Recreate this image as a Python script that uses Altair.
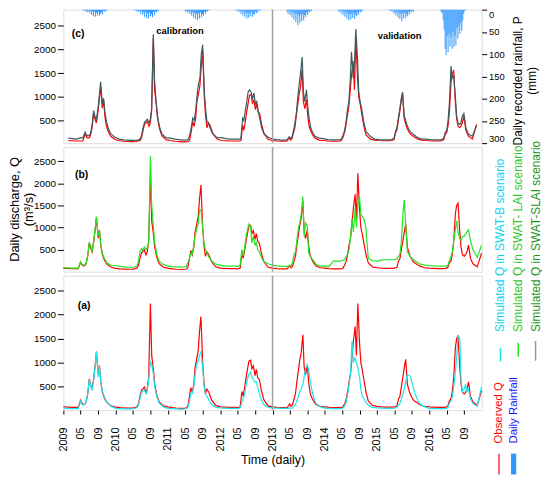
import altair as alt
import pandas as pd

YEARS = [2009, 2010, 2011, 2012, 2013, 2014, 2015, 2016]
MONTH_DAYS = ["01-01", "02-01", "03-01", "04-01", "04-15", "05-01", "05-10", "05-20",
              "06-01", "06-10", "06-20", "07-01", "07-10", "07-20", "08-01", "08-10",
              "08-20", "09-01", "09-10", "09-20", "10-01", "10-15", "11-01", "12-01"]
LAST_DAY = "2016-12-31"

# Observed discharge (m3/s)
OBS = {
    2009: [80, 75, 70, 70, 70, 220, 160, 130, 140, 200, 350, 660, 540, 450, 680, 920, 1230, 760, 940, 580, 380, 260, 170, 100],
    2010: [75, 65, 60, 55, 55, 60, 65, 70, 90, 150, 300, 430, 450, 490, 380, 450, 700, 2230, 1150, 900, 560, 330, 180, 100],
    2011: [80, 65, 55, 50, 50, 55, 60, 90, 300, 480, 380, 550, 900, 1050, 1250, 1650, 1960, 1000, 600, 350, 450, 380, 230, 110],
    2012: [80, 75, 70, 70, 70, 65, 70, 80, 400, 300, 480, 700, 860, 1030, 1050, 870, 930, 730, 860, 680, 650, 420, 230, 100],
    2013: [80, 70, 65, 65, 70, 140, 90, 120, 250, 350, 600, 850, 1050, 1200, 1580, 900, 750, 950, 600, 380, 280, 200, 130, 90],
    2014: [80, 70, 65, 65, 65, 70, 90, 150, 250, 400, 600, 800, 1100, 1450, 1750, 1150, 2230, 1400, 1000, 850, 650, 400, 200, 110],
    2015: [90, 80, 75, 75, 75, 80, 85, 100, 250, 300, 500, 700, 900, 1070, 550, 450, 350, 280, 230, 200, 180, 150, 120, 90],
    2016: [80, 75, 70, 70, 70, 80, 100, 200, 250, 400, 700, 1300, 1500, 1550, 900, 550, 380, 350, 380, 450, 600, 300, 180, 110],
}
OBS_END = 420

# Simulated Q, SWAT-B scenario (cyan)
SWAT_B = {
    2009: [55, 50, 45, 45, 45, 200, 140, 120, 140, 200, 350, 640, 540, 420, 650, 900, 1220, 700, 920, 600, 400, 280, 180, 90],
    2010: [50, 45, 40, 40, 40, 45, 50, 55, 70, 120, 250, 380, 400, 430, 350, 420, 650, 1030, 950, 800, 500, 300, 160, 80],
    2011: [50, 45, 40, 35, 35, 40, 45, 60, 200, 350, 350, 500, 750, 950, 1050, 1150, 1240, 900, 550, 350, 300, 220, 130, 70],
    2012: [60, 55, 50, 50, 50, 45, 50, 60, 180, 250, 350, 550, 660, 750, 800, 700, 650, 590, 600, 480, 350, 220, 130, 70],
    2013: [60, 55, 50, 50, 50, 60, 55, 60, 100, 130, 200, 300, 400, 450, 550, 700, 880, 960, 850, 650, 450, 280, 150, 80],
    2014: [55, 50, 45, 45, 45, 50, 60, 100, 200, 350, 550, 800, 1450, 1000, 1100, 1000, 900, 700, 450, 300, 250, 180, 120, 70],
    2015: [60, 55, 50, 50, 50, 55, 60, 70, 120, 150, 250, 350, 450, 600, 760, 740, 720, 600, 500, 380, 300, 200, 130, 80],
    2016: [50, 45, 45, 45, 45, 50, 70, 150, 200, 300, 500, 800, 1100, 1550, 1500, 600, 400, 450, 550, 400, 450, 250, 150, 90],
}
SWAT_B_END = 500

# Simulated Q, SWAT-LAI scenario (green)
SWAT_LAI = {
    2009: [90, 85, 80, 80, 80, 220, 170, 150, 160, 200, 380, 650, 600, 450, 700, 950, 1240, 800, 930, 600, 400, 300, 200, 140],
    2010: [140, 120, 110, 100, 100, 100, 100, 110, 150, 250, 450, 520, 480, 560, 500, 540, 650, 2620, 1500, 1100, 650, 400, 240, 160],
    2011: [130, 115, 110, 105, 105, 110, 120, 200, 300, 420, 400, 600, 800, 950, 1100, 1400, 1400, 1000, 650, 500, 420, 330, 250, 170],
    2012: [150, 130, 125, 125, 125, 120, 125, 150, 500, 350, 550, 800, 950, 1080, 1000, 650, 800, 600, 650, 500, 450, 320, 230, 180],
    2013: [150, 130, 120, 120, 120, 130, 130, 200, 400, 450, 700, 1000, 1100, 1300, 1700, 800, 1100, 1050, 450, 350, 300, 250, 170, 120],
    2014: [130, 120, 240, 240, 240, 250, 260, 280, 350, 400, 500, 800, 1200, 900, 1450, 1000, 1500, 1700, 1300, 1250, 1200, 1000, 300, 250],
    2015: [240, 260, 270, 270, 270, 270, 280, 290, 350, 400, 700, 1300, 1620, 1100, 450, 400, 350, 300, 280, 250, 230, 200, 170, 150],
    2016: [140, 130, 125, 125, 125, 130, 150, 250, 350, 450, 700, 950, 1150, 900, 750, 700, 800, 800, 850, 900, 950, 700, 500, 320],
}
SWAT_LAI_END = 600

# Simulated Q, SWAT-SLAI scenario (dark grey)
SWAT_SLAI = {
    2009: [130, 120, 110, 140, 130, 260, 200, 180, 190, 250, 400, 710, 600, 500, 750, 1000, 1320, 850, 970, 680, 470, 330, 220, 150],
    2010: [110, 95, 90, 85, 85, 85, 90, 100, 120, 200, 350, 470, 500, 530, 450, 520, 750, 2320, 1350, 950, 600, 380, 220, 140],
    2011: [130, 110, 100, 90, 90, 95, 110, 200, 380, 550, 500, 700, 1000, 1250, 1400, 1900, 2100, 1100, 750, 480, 450, 320, 220, 140],
    2012: [140, 120, 110, 110, 110, 105, 110, 130, 550, 500, 700, 900, 1100, 1150, 1100, 950, 1080, 850, 900, 700, 560, 350, 220, 150],
    2013: [110, 100, 90, 90, 95, 160, 120, 150, 300, 450, 650, 1000, 1250, 1500, 1840, 1100, 900, 1150, 800, 550, 350, 250, 170, 130],
    2014: [120, 100, 95, 95, 95, 100, 120, 180, 300, 450, 700, 900, 1300, 1950, 1400, 1700, 2430, 1800, 1100, 900, 750, 480, 270, 170],
    2015: [110, 100, 95, 95, 95, 100, 110, 130, 280, 350, 550, 750, 950, 1100, 600, 520, 420, 330, 280, 250, 220, 190, 150, 110],
    2016: [110, 100, 95, 95, 95, 110, 130, 250, 300, 500, 900, 1650, 1400, 1450, 1000, 600, 450, 420, 450, 600, 650, 350, 220, 170],
}
SWAT_SLAI_END = 400

# Daily recorded rainfall (mm), wet-season samples
RAIN_MONTH_DAYS = ["04-15", "04-22", "04-29", "05-06", "05-13", "05-20", "05-27", "06-03", "06-10",
                   "06-17", "06-24", "07-01", "07-08", "07-15", "07-22", "07-29", "08-05", "08-12",
                   "08-19", "08-26", "09-02", "09-09", "09-16", "09-23", "09-30", "10-07"]
RAIN = {
    2009: [1, 3, 1, 4, 2, 6, 2, 8, 3, 12, 5, 15, 4, 16, 7, 13, 5, 14, 9, 6, 11, 3, 5, 2, 3, 1],
    2010: [1, 2, 1, 4, 2, 5, 2, 9, 3, 12, 6, 16, 5, 19, 8, 20, 6, 15, 10, 17, 5, 13, 4, 7, 2, 3],
    2011: [2, 5, 2, 7, 3, 10, 4, 14, 6, 18, 7, 21, 9, 24, 8, 20, 6, 17, 10, 14, 5, 9, 3, 5, 2, 1],
    2012: [1, 3, 1, 6, 2, 9, 3, 13, 5, 16, 6, 20, 8, 18, 7, 15, 5, 16, 9, 11, 4, 8, 2, 4, 1, 2],
    2013: [4, 9, 3, 12, 5, 17, 6, 22, 9, 28, 10, 35, 12, 30, 11, 26, 9, 24, 12, 17, 6, 12, 4, 6, 2, 3],
    2014: [2, 5, 2, 8, 3, 12, 5, 16, 6, 20, 8, 24, 10, 22, 9, 19, 7, 21, 11, 15, 6, 12, 3, 6, 2, 3],
    2015: [1, 3, 1, 5, 2, 9, 4, 13, 5, 17, 7, 21, 9, 26, 8, 20, 7, 18, 10, 15, 5, 11, 3, 6, 2, 4],
    2016: [2, 5, 8, 22, 45, 88, 102, 60, 95, 55, 82, 62, 88, 50, 84, 58, 80, 42, 65, 38, 55, 30, 48, 25, 10, 3],
}

Q_TICKS = [500, 1000, 1500, 2000, 2500]
RAIN_TICKS = [0, 50, 100, 150, 200, 250, 300]

# ---------- tables ----------
dates, obs, sb, slai_v, lai_v = [], [], [], [], []
for y in YEARS:
    for i, md in enumerate(MONTH_DAYS):
        dates.append(f"{y}-{md}")
        obs.append(OBS[y][i]); sb.append(SWAT_B[y][i])
        lai_v.append(SWAT_LAI[y][i]); slai_v.append(SWAT_SLAI[y][i])
dates.append(LAST_DAY); obs.append(OBS_END); sb.append(SWAT_B_END)
lai_v.append(SWAT_LAI_END); slai_v.append(SWAT_SLAI_END)
qdf = pd.DataFrame({"date": dates, "obs": obs, "b": sb, "lai": lai_v, "slai": slai_v})

rdates, rvals = [], []
for y in YEARS:
    for i, md in enumerate(RAIN_MONTH_DAYS):
        rdates.append(f"{y}-{md}")
        rvals.append(RAIN[y][i])
rdf = pd.DataFrame({"date": rdates, "rain": rvals})
split_df = pd.DataFrame({"date": ["2013-01-01"]})
one = pd.DataFrame({"k": [0]})

# ---------- styling ----------
W = 423
H_C, H_B, H_A = 135, 126, 136
RED = "#FF0000"
CYAN = "#19E6F0"
GREEN = "#22E622"
GREY = "#3C5A5F"
BLUE = "#2E96FF"

x_scale = alt.Scale(type="utc", nice=False,
                    domain=[alt.DateTime(year=2009, month=1, date=1, utc=True),
                            alt.DateTime(year=2017, month=1, date=1, utc=True)])
x_none = alt.X("date:T", scale=x_scale, axis=None)

tick_vals = [alt.DateTime(year=y, month=m, date=1, utc=True) for y in YEARS for m in (1, 5, 9)]
x_axis_a = alt.Axis(
    values=tick_vals,
    labelExpr="utcmonth(datum.value) == 0 ? utcFormat(datum.value, '%Y') : utcFormat(datum.value, '%m')",
    labelAngle=270, labelAlign="right", labelBaseline="middle",
    labelFontSize=11, labelPadding=13, tickSize=4, labelOverlap=False,
    grid=False, domain=False, title="Time (daily)", titleFontSize=12.5,
    titleFontWeight="normal", titlePadding=2, titleColor="black",
    labelColor="black", tickColor="black")
x_a = alt.X("date:T", scale=x_scale, axis=x_axis_a)


def y_enc(field, domain):
    return alt.Y(f"{field}:Q", scale=alt.Scale(domain=domain, nice=False, zero=False),
                 axis=alt.Axis(values=Q_TICKS, format="d", tickSize=6, labelPadding=2,
                               labelFontSize=10, title=None, grid=False, domain=False,
                               labelColor="black", tickColor="black"))


def line(field, color, x, domain, width=1.2):
    return alt.Chart(qdf).mark_line(color=color, strokeWidth=width).encode(
        x=x, y=y_enc(field, domain))


def txt(s, x, y, size=10, weight="normal", color="black", angle=0, align="center"):
    return alt.Chart(one).mark_text(text=s, fontSize=size, fontWeight=weight, color=color,
                                    angle=angle, align=align, baseline="middle").encode(
        x=alt.value(x), y=alt.value(y))


def split_rule(x):
    return alt.Chart(split_df).mark_rule(color="#A0A0A0", strokeWidth=1.5).encode(x=x)


def sym(x, y1, y2, color, width=1.5):
    return alt.Chart(one).mark_rule(color=color, strokeWidth=width).encode(
        x=alt.value(x), y=alt.value(y1), y2=alt.value(y2))


# ---------- panel (c) ----------
DOM_C = [25, 2840]
rain_bars = alt.Chart(rdf).mark_bar(width=1.0, color=BLUE).encode(
    x=x_none,
    y=alt.Y("rain:Q", scale=alt.Scale(domain=[0, 300], reverse=True, nice=False),
            axis=alt.Axis(orient="right", values=RAIN_TICKS, tickSize=5, labelPadding=2,
                          labelFontSize=9.5, labelFlush=True, title=None, grid=False,
                          domain=False, labelColor="black", tickColor="black")))
left_c = alt.layer(
    line("obs", RED, x_none, DOM_C),
    line("slai", GREY, x_none, DOM_C),
    split_rule(x_none),
    txt("(c)", 15, 25, 10.5, "bold"),
    txt("calibration", 118, 22, 9.5, "bold"),
    txt("validation", 340, 27, 9.5, "bold"),
    txt("Daily recorded rainfall, P", 460, 72, 12, angle=270),
    txt("(mm)", 473.5, 72, 12, angle=270),
)
panel_c = alt.layer(rain_bars, left_c).resolve_scale(y="independent").properties(
    width=W, height=H_C)

# ---------- panel (b) ----------
DOM_B = [0, 2820]
panel_b = alt.layer(
    line("obs", RED, x_none, DOM_B),
    line("lai", GREEN, x_none, DOM_B),
    split_rule(x_none),
    txt("(b)", 18.5, 28, 10.5, "bold"),
    txt("Daily discharge, Q", -49, 63, 13, angle=270),
    txt("(m³/s)", -35, 63, 13, angle=270),
).properties(width=W, height=H_B)

# ---------- panel (a) ----------
DOM_A = [12, 2808]
panel_a = alt.layer(
    line("obs", RED, x_a, DOM_A),
    line("b", CYAN, x_a, DOM_A),
    split_rule(x_a),
    txt("(a)", 21, 31, 10.5, "bold"),
    # legend
    txt("Simulated Q in SWAT-B scenario", 442, 57, 12, color="#10D0F0", angle=270, align="left"),
    txt("Simulated Q in SWAT- LAI scenario", 460, 57, 12, color="#30C830", angle=270, align="left"),
    txt("Simulated Q in SWAT-SLAI scenario", 477.5, 57, 12, color="#1E961E", angle=270, align="left"),
    sym(442, 73, 87, CYAN),
    sym(460, 68, 82, GREEN),
    sym(477.5, 66, 86, "#8A9A9A"),
    txt("Observed Q", 440.3, 169.7, 11.5, color="#FF0000", angle=270, align="left"),
    txt("Daily Rainfall", 455.3, 169.7, 11.5, color="#1515FF", angle=270, align="left"),
    sym(440.5, 180, 201, RED, 1.2),
    sym(455.3, 180, 201, BLUE, 5.3),
).properties(width=W, height=H_A)

chart = alt.vconcat(panel_c, panel_b, panel_a, spacing=4, bounds="flush").properties(
    padding={"top": -3, "left": 0, "right": 0, "bottom": 0}
).configure_view(stroke="black", strokeWidth=1).configure(font="Liberation Sans")

chart.save("out.html", embed_options={"renderer": "svg", "actions": False})
